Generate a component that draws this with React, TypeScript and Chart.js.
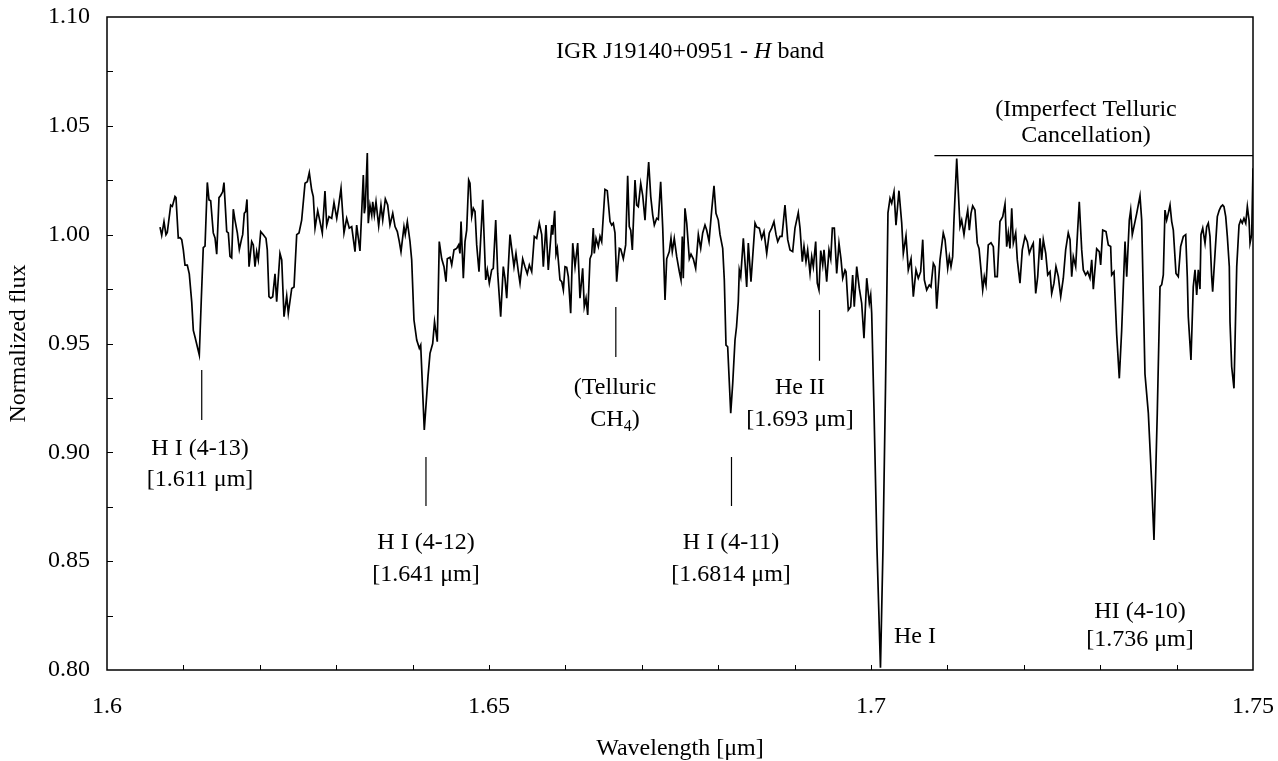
import React, { useEffect, useRef } from 'react';
import { Chart, registerables } from 'chart.js';

Chart.register(...registerables);

// ---- Data ----
const wavelength = [
  1.60694,1.60716,1.60746,1.60772,1.60789,1.60834,1.60855,1.60890,1.60903,1.60933,
  1.60956,1.60978,1.60999,1.61021,1.61051,1.61077,1.61109,1.61130,1.61152,1.61208,
  1.61234,1.61260,1.61283,1.61313,1.61335,1.61357,1.61391,1.61414,1.61436,1.61466,
  1.61488,1.61514,1.61531,1.61567,1.61588,1.61610,1.61632,1.61653,1.61675,1.61706,
  1.61732,1.61763,1.61776,1.61797,1.61815,1.61832,1.61859,1.61894,1.61915,1.61937,
  1.61959,1.61980,1.62012,1.62046,1.62081,1.62098,1.62120,1.62143,1.62169,1.62199,
  1.62221,1.62264,1.62287,1.62317,1.62352,1.62373,1.62418,1.62448,1.62483,1.62513,
  1.62548,1.62592,1.62622,1.62648,1.62679,1.62700,1.62723,1.62758,1.62788,1.62818,
  1.62853,1.62876,1.62906,1.62941,1.62971,1.63007,1.63027,1.63063,1.63102,1.63137,
  1.63171,1.63203,1.63246,1.63268,1.63311,1.63355,1.63368,1.63381,1.63407,1.63420,
  1.63442,1.63465,1.63478,1.63499,1.63521,1.63556,1.63586,1.63609,1.63643,1.63674,
  1.63704,1.63740,1.63770,1.63800,1.63826,1.63848,1.63887,1.63904,1.63931,1.63966,
  1.63988,1.64018,1.64054,1.64088,1.64106,1.64153,1.64202,1.64228,1.64263,1.64287,
  1.64323,1.64349,1.64381,1.64411,1.64437,1.64454,1.64490,1.64512,1.64542,1.64577,
  1.64603,1.64620,1.64634,1.64664,1.64686,1.64708,1.64734,1.64751,1.64774,1.64795,
  1.64817,1.64839,1.64869,1.64918,1.64957,1.64978,1.65004,1.65035,1.65056,1.65088,
  1.65114,1.65153,1.65187,1.65209,1.65232,1.65253,1.65275,1.65297,1.65327,1.65353,
  1.65384,1.65406,1.65441,1.65471,1.65501,1.65528,1.65559,1.65593,1.65624,1.65658,
  1.65690,1.65711,1.65746,1.65776,1.65821,1.65834,1.65860,1.65877,1.65894,1.65929,
  1.65952,1.65973,1.65995,1.66017,1.66038,1.66069,1.66096,1.66126,1.66161,1.66191,
  1.66226,1.66247,1.66270,1.66292,1.66322,1.66344,1.66365,1.66378,1.66401,1.66431,
  1.66453,1.66475,1.66518,1.66548,1.66584,1.66606,1.66627,1.66649,1.66671,1.66706,
  1.66724,1.66758,1.66789,1.66815,1.66836,1.66855,1.66876,1.66911,1.66933,1.66954,
  1.66986,1.67012,1.67042,1.67064,1.67090,1.67117,1.67143,1.67164,1.67195,1.67216,
  1.67247,1.67274,1.67304,1.67326,1.67360,1.67382,1.67399,1.67425,1.67457,1.67491,
  1.67513,1.67530,1.67543,1.67565,1.67588,1.67622,1.67644,1.67674,1.67705,1.67740,
  1.67771,1.67797,1.67827,1.67849,1.67880,1.67915,1.67945,1.67971,1.68001,1.68024,
  1.68059,1.68080,1.68102,1.68124,1.68164,1.68190,1.68220,1.68240,1.68263,1.68276,
  1.68295,1.68329,1.68373,1.68394,1.68429,1.68482,1.68504,1.68538,1.68569,1.68599,
  1.68635,1.68669,1.68700,1.68730,1.68757,1.68779,1.68809,1.68835,1.68874,1.68910,
  1.68940,1.68975,1.69005,1.69048,1.69071,1.69101,1.69123,1.69149,1.69171,1.69202,
  1.69224,1.69245,1.69276,1.69297,1.69319,1.69342,1.69368,1.69385,1.69420,1.69450,
  1.69473,1.69494,1.69520,1.69551,1.69581,1.69607,1.69630,1.69660,1.69673,1.69703,
  1.69734,1.69760,1.69781,1.69813,1.69847,1.69878,1.69908,1.69944,1.69978,1.69996,
  1.70009,1.70039,1.70078,1.70124,1.70157,1.70190,1.70222,1.70249,1.70271,1.70301,
  1.70327,1.70366,1.70402,1.70423,1.70458,1.70488,1.70524,1.70554,1.70589,1.70619,
  1.70650,1.70677,1.70698,1.70729,1.70763,1.70785,1.70816,1.70838,1.70860,1.70903,
  1.70946,1.70969,1.71004,1.71025,1.71047,1.71069,1.71086,1.71122,1.71165,1.71187,
  1.71217,1.71243,1.71266,1.71287,1.71309,1.71331,1.71361,1.71391,1.71414,1.71440,
  1.71462,1.71483,1.71505,1.71535,1.71571,1.71601,1.71623,1.71653,1.71688,1.71724,
  1.71754,1.71776,1.71797,1.71819,1.71842,1.71863,1.71894,1.71915,1.71950,1.71980,
  1.72016,1.72046,1.72072,1.72103,1.72124,1.72156,1.72182,1.72212,1.72234,1.72255,
  1.72287,1.72313,1.72343,1.72365,1.72395,1.72421,1.72452,1.72483,1.72517,1.72548,
  1.72582,1.72605,1.72627,1.72648,1.72679,1.72705,1.72726,1.72758,1.72779,1.72810,
  1.72836,1.72866,1.72889,1.72910,1.72954,1.72988,1.73006,1.73033,1.73076,1.73106,
  1.73137,1.73150,1.73181,1.73194,1.73216,1.73250,1.73281,1.73312,1.73325,1.73347,
  1.73381,1.73399,1.73420,1.73442,1.73478,1.73521,1.73543,1.73586,1.73630,1.73674,
  1.73704,1.73747,1.73783,1.73805,1.73826,1.73848,1.73870,1.73891,1.73914,1.73936,
  1.73957,1.73992,1.74022,1.74053,1.74088,1.74119,1.74140,1.74153,1.74188,1.74218,
  1.74241,1.74263,1.74284,1.74306,1.74319,1.74342,1.74372,1.74394,1.74415,1.74437,
  1.74459,1.74472,1.74503,1.74533,1.74559,1.74581,1.74603,1.74620,1.74643,1.74664,
  1.74690,1.74699,1.74721,1.74751,1.74787,1.74817,1.74839,1.74860,1.74882,1.74905,
  1.74926,1.74948,1.74961,1.74983,1.75000,
];

const normalizedFlux = [
  1.0035,0.9997,1.006,1.000,1.001,1.0136,1.013,1.0175,1.017,0.9985,
  0.9986,0.9977,0.993,0.986,0.986,0.982,0.969,0.956,0.953,0.9447,
  0.970,0.994,0.9947,1.024,1.016,1.0156,1.0008,0.9985,0.991,1.017,
  1.018,1.0197,1.0239,1.0014,1.0008,0.990,0.9893,1.0117,1.0067,1.0008,
  0.9932,0.9983,1.000,1.0098,1.0106,1.0162,0.9853,0.9968,0.9953,0.9853,
  0.9922,0.9884,1.0014,1.000,0.9983,0.993,0.9715,0.9708,0.9715,0.982,
  0.9692,0.9914,0.9884,0.9623,0.9718,0.9639,0.9753,0.976,1.000,1.0008,
  1.0067,1.0236,1.0243,1.0285,1.0205,1.0175,1.003,1.011,1.006,1.0008,
  1.020,1.0044,1.0083,1.0075,1.0147,1.0075,1.0121,1.0213,1.0008,1.0075,
  1.003,1.0037,0.9922,1.0044,0.9925,1.0274,1.0098,1.0129,1.0375,1.0053,
  1.0136,1.009,1.0151,1.009,1.0151,1.004,1.0136,1.0067,1.0164,1.0136,
  1.0044,1.0098,1.0037,1.0014,0.9968,0.9922,1.0037,1.000,1.006,0.9968,
  0.9884,0.9608,0.9516,0.9478,0.9493,0.9103,0.935,0.9455,0.950,0.960,
  0.9508,0.9968,0.9889,0.9853,0.9784,0.9889,0.9896,0.9861,0.993,0.9937,
  0.9953,0.9914,1.006,0.980,0.9968,1.0021,1.0251,1.0236,1.0083,1.0121,
  1.0106,0.9953,0.983,1.016,0.9792,0.9838,0.9777,0.9838,0.9845,1.0067,
  0.9822,0.9623,0.9853,0.980,0.9708,0.9853,1.000,0.9937,0.9853,0.9914,
  0.983,0.9777,0.9889,0.9853,0.982,0.9861,0.983,0.9992,0.9983,1.0053,
  1.000,0.9853,1.0044,0.9838,1.0044,1.000,1.011,0.991,0.9937,0.9792,
  0.9784,0.9746,0.9853,0.985,0.9807,0.9639,0.9961,0.9853,0.9961,0.9708,
  0.9845,0.9669,0.9708,0.9631,0.9889,0.991,1.003,0.9914,0.9983,0.9945,
  0.9992,0.9968,1.0208,1.0202,1.006,1.0044,1.0053,1.0008,0.9784,0.9937,
  0.9934,0.9889,0.9953,1.027,1.0037,1.0021,0.993,1.0251,1.0136,1.0129,
  1.0236,1.018,1.0067,1.0205,1.0334,1.0175,1.009,1.0044,1.0075,1.007,
  1.0243,1.003,0.970,0.9889,0.9922,0.9983,0.9922,0.9983,0.9899,0.983,
  0.9792,0.9992,0.980,1.0121,1.0053,0.9889,0.991,0.9889,0.9845,1.000,
  0.9937,1.0008,1.0044,1.0021,0.9968,1.0113,1.0224,1.0098,1.0067,1.000,
  0.9937,0.9792,0.9493,0.9485,0.918,0.9317,0.9516,0.9577,0.9692,0.9838,
  0.9807,0.9983,0.976,0.9961,0.9784,1.0053,1.0035,1.003,0.9983,1.0014,
  0.9914,1.0008,1.003,1.006,1.000,0.9968,0.9992,0.9992,1.0136,0.9977,
  0.993,0.9922,1.003,1.0101,1.003,0.9876,0.9947,0.9876,0.993,0.9822,
  0.9899,0.9853,0.9968,0.9777,0.9746,0.9927,0.9861,0.993,0.9784,0.993,
  0.9889,1.003,1.003,0.9822,0.9961,0.9889,0.980,0.9838,0.983,0.9654,
  0.9669,0.9815,0.9669,0.9853,0.9753,0.9685,0.9524,0.980,0.9685,0.9723,
  0.964,0.920,0.856,0.801,0.856,0.930,1.010,1.0167,1.0144,1.0197,
  1.0044,1.0202,1.0053,0.9914,0.9995,0.9838,0.9889,0.9715,0.9838,0.980,
  0.983,0.9977,0.9792,0.9746,0.9769,0.976,0.9868,0.9853,0.966,0.9884,
  1.0008,0.9977,0.9845,0.9899,0.9853,0.9899,1.0067,1.035,1.0037,1.0067,
  1.000,1.0067,1.0113,1.0021,1.0098,1.0132,1.0113,0.9961,0.9937,0.9838,
  0.9746,0.9807,0.9769,0.9953,0.9963,0.9945,0.9807,0.9807,1.006,1.0083,
  1.0141,0.9945,1.0008,0.9937,1.0121,0.9961,1.0008,0.9884,0.9777,0.993,
  0.9992,0.9968,0.9914,0.9945,0.9961,0.973,0.9807,0.9983,0.9884,0.9977,
  0.9914,0.9815,0.983,0.973,0.9777,0.9853,0.9807,0.9715,0.980,0.993,
  1.0008,0.9977,0.9807,0.9899,0.9853,1.0021,1.0151,0.993,0.9838,0.9815,
  0.983,0.980,0.9884,0.975,0.9935,0.9922,0.9861,1.0021,1.0014,0.9953,
  0.9946,0.9815,0.983,0.972,0.954,0.934,0.956,0.985,0.9968,0.9807,
  1.0067,1.0113,1.000,1.0037,1.0098,1.0178,1.0067,0.936,0.918,0.8858,
  0.8597,0.918,0.9761,0.977,0.9815,1.0113,1.0067,1.0098,1.0136,1.006,
  1.0021,0.9822,0.9807,0.9946,0.9992,1.000,0.9807,0.9623,0.9424,0.976,
  0.9838,0.9723,0.9838,0.975,1.000,1.003,0.9961,1.0037,1.0053,0.9992,
  0.9807,0.9738,0.9914,1.0083,1.0113,1.0129,1.0136,1.0129,1.0083,0.9992,
  0.9853,0.960,0.9393,0.9294,0.9853,1.0044,1.0067,1.0053,1.0075,1.0053,
  1.0129,1.0067,0.9961,1.000,1.0305,
];

const xTickValues = [1.6, 1.65, 1.7, 1.75];
const yTickValues = [0.8, 0.85, 0.9, 0.95, 1.0, 1.05, 1.1];
const xMinorTicks = [1.61, 1.62, 1.63, 1.64, 1.65, 1.66, 1.67, 1.68, 1.69, 1.70, 1.71, 1.72, 1.73, 1.74];
const yMinorTicks = [0.825, 0.85, 0.875, 0.9, 0.925, 0.95, 0.975, 1.0, 1.025, 1.05, 1.075];

const titleText = [
  { t: 'IGR J19140+0951 - ' },
  { t: 'H', italic: true },
  { t: ' band' },
];
const xAxisTitle = 'Wavelength [\u03bcm]';
const yAxisTitle = 'Normalized flux';

// ---- Annotation layout (data coordinates) ----
const FONT_FAMILY = '"Liberation Serif", "Times New Roman", serif';
const FONT_SIZE = 24;

type Seg = { t: string; italic?: boolean; sub?: boolean };
type Label = { x: number; y: number; segs: Seg[] };

const annotationLabels: Label[] = [
  { x: 1.67631, y: 1.0839, segs: titleText },
  { x: 1.72814, y: 1.0573, segs: [{ t: '(Imperfect Telluric' }] },
  { x: 1.72814, y: 1.0453, segs: [{ t: 'Cancellation)' }] },
  { x: 1.61217, y: 0.9015, segs: [{ t: 'H I (4-13)' }] },
  { x: 1.61217, y: 0.8873, segs: [{ t: '[1.611 \u03bcm]' }] },
  { x: 1.64175, y: 0.8583, segs: [{ t: 'H I (4-12)' }] },
  { x: 1.64175, y: 0.8437, segs: [{ t: '[1.641 \u03bcm]' }] },
  { x: 1.66649, y: 0.9296, segs: [{ t: '(Telluric' }] },
  { x: 1.66649, y: 0.9149, segs: [{ t: 'CH' }, { t: '4', sub: true }, { t: ')' }] },
  { x: 1.68168, y: 0.8583, segs: [{ t: 'H I (4-11)' }] },
  { x: 1.68168, y: 0.8437, segs: [{ t: '[1.6814 \u03bcm]' }] },
  { x: 1.69071, y: 0.9296, segs: [{ t: 'He II' }] },
  { x: 1.69071, y: 0.9149, segs: [{ t: '[1.693 \u03bcm]' }] },
  { x: 1.70576, y: 0.8152, segs: [{ t: 'He I' }] },
  { x: 1.73521, y: 0.8266, segs: [{ t: 'HI (4-10)' }] },
  { x: 1.73521, y: 0.8137, segs: [{ t: '[1.736 \u03bcm]' }] },
];

const markerLines = [
  { x1: 1.6124, y1: 0.9378, x2: 1.6124, y2: 0.9149 },
  { x1: 1.64175, y1: 0.8979, x2: 1.64175, y2: 0.8754 },
  { x1: 1.6666, y1: 0.9668, x2: 1.6666, y2: 0.9438 },
  { x1: 1.68174, y1: 0.8979, x2: 1.68174, y2: 0.8754 },
  { x1: 1.69326, y1: 0.9654, x2: 1.69326, y2: 0.9421 },
  { x1: 1.7083, y1: 1.0363, x2: 1.75, y2: 1.0363 },
];

function drawRich(ctx: CanvasRenderingContext2D, segs: Seg[], cx: number, cy: number) {
  const fontFor = (s: Seg) =>
    `${s.italic ? 'italic ' : ''}${s.sub ? Math.round(FONT_SIZE * 0.65) : FONT_SIZE}px ${FONT_FAMILY}`;
  let total = 0;
  for (const s of segs) {
    ctx.font = fontFor(s);
    total += ctx.measureText(s.t).width;
  }
  let x = cx - total / 2;
  ctx.textAlign = 'left';
  ctx.textBaseline = 'middle';
  for (const s of segs) {
    ctx.font = fontFor(s);
    ctx.fillText(s.t, x, cy + (s.sub ? FONT_SIZE * 0.3 : 0));
    x += ctx.measureText(s.t).width;
  }
}

const decorPlugin = {
  id: 'decor',
  afterDatasetsDraw(chart: any) {
    const { ctx, chartArea: a, scales } = chart;
    const xs = scales.x;
    const ys = scales.y;
    ctx.save();
    ctx.strokeStyle = '#000';
    ctx.fillStyle = '#000';
    // frame
    ctx.lineWidth = 1.5;
    ctx.strokeRect(a.left, a.top, a.right - a.left, a.bottom - a.top);
    // inward minor ticks
    ctx.lineWidth = 1;
    ctx.beginPath();
    for (const v of xMinorTicks) {
      const px = Math.round(xs.getPixelForValue(v)) + 0.5;
      ctx.moveTo(px, a.bottom);
      ctx.lineTo(px, a.bottom - 5);
    }
    for (const v of yMinorTicks) {
      const py = Math.round(ys.getPixelForValue(v)) + 0.5;
      ctx.moveTo(a.left, py);
      ctx.lineTo(a.left + 6, py);
    }
    ctx.stroke();
    // marker lines
    ctx.lineWidth = 1.2;
    ctx.beginPath();
    for (const m of markerLines) {
      ctx.moveTo(xs.getPixelForValue(m.x1), ys.getPixelForValue(m.y1));
      ctx.lineTo(xs.getPixelForValue(m.x2), ys.getPixelForValue(m.y2));
    }
    ctx.stroke();
    // labels
    for (const l of annotationLabels) {
      drawRich(ctx, l.segs, xs.getPixelForValue(l.x), ys.getPixelForValue(l.y));
    }
    ctx.restore();
  },
};

export default function App() {
  const canvasRef = useRef<HTMLCanvasElement | null>(null);

  useEffect(() => {
    document.body.style.margin = '0';
    const canvas = canvasRef.current;
    if (!canvas) return;
    const points = wavelength.map((w, i) => ({ x: w, y: normalizedFlux[i] }));
    const chart = new Chart(canvas, {
      type: 'line',
      data: {
        datasets: [
          {
            data: points,
            borderColor: '#000',
            borderWidth: 1.7,
            pointRadius: 0,
            tension: 0,
            fill: false,
          },
        ],
      },
      options: {
        animation: false,
        responsive: false,
        devicePixelRatio: 1,
        parsing: false,
        normalized: true,
        layout: { padding: { top: 17, right: 25, left: 0, bottom: 0 } },
        plugins: { legend: { display: false }, tooltip: { enabled: false } },
        scales: {
          x: {
            type: 'linear',
            min: 1.6,
            max: 1.75,
            grid: { display: false, drawTicks: false },
            border: { display: false },
            afterBuildTicks: (s: any) => {
              s.ticks = xTickValues.map((v) => ({ value: v }));
            },
            afterFit: (s: any) => {
              s.height = 91;
              s.paddingLeft = 0;
              s.paddingRight = 0;
              s.paddingTop = 0;
              s.paddingBottom = 0;
            },
            ticks: {
              autoSkip: false,
              maxRotation: 0,
              padding: 22,
              color: '#000',
              font: { family: FONT_FAMILY, size: FONT_SIZE },
              callback: (v: any) => String(Number(Number(v).toFixed(2))),
            },
            title: {
              display: true,
              text: xAxisTitle,
              color: '#000',
              font: { family: FONT_FAMILY, size: FONT_SIZE, lineHeight: 1 },
              padding: 0,
            },
          },
          y: {
            type: 'linear',
            min: 0.8,
            max: 1.1,
            grid: { display: false, drawTicks: false },
            border: { display: false },
            afterBuildTicks: (s: any) => {
              s.ticks = yTickValues.map((v) => ({ value: v }));
            },
            afterFit: (s: any) => {
              s.width = 107;
              s.paddingLeft = 0;
              s.paddingRight = 0;
              s.paddingTop = 0;
              s.paddingBottom = 0;
            },
            ticks: {
              padding: 17,
              color: '#000',
              font: { family: FONT_FAMILY, size: FONT_SIZE },
              callback: (v: any) => Number(v).toFixed(2),
            },
            title: {
              display: true,
              text: yAxisTitle,
              color: '#000',
              font: { family: FONT_FAMILY, size: FONT_SIZE, lineHeight: 1.2 },
              padding: { top: 4, bottom: 0 },
            },
          },
        },
      },
      plugins: [decorPlugin],
    });
    return () => chart.destroy();
  }, []);

  return (
    <div style={{ width: 1278, height: 761, background: '#fff' }}>
      <canvas ref={canvasRef} width={1278} height={761} style={{ display: 'block', width: 1278, height: 761 }} />
    </div>
  );
}
